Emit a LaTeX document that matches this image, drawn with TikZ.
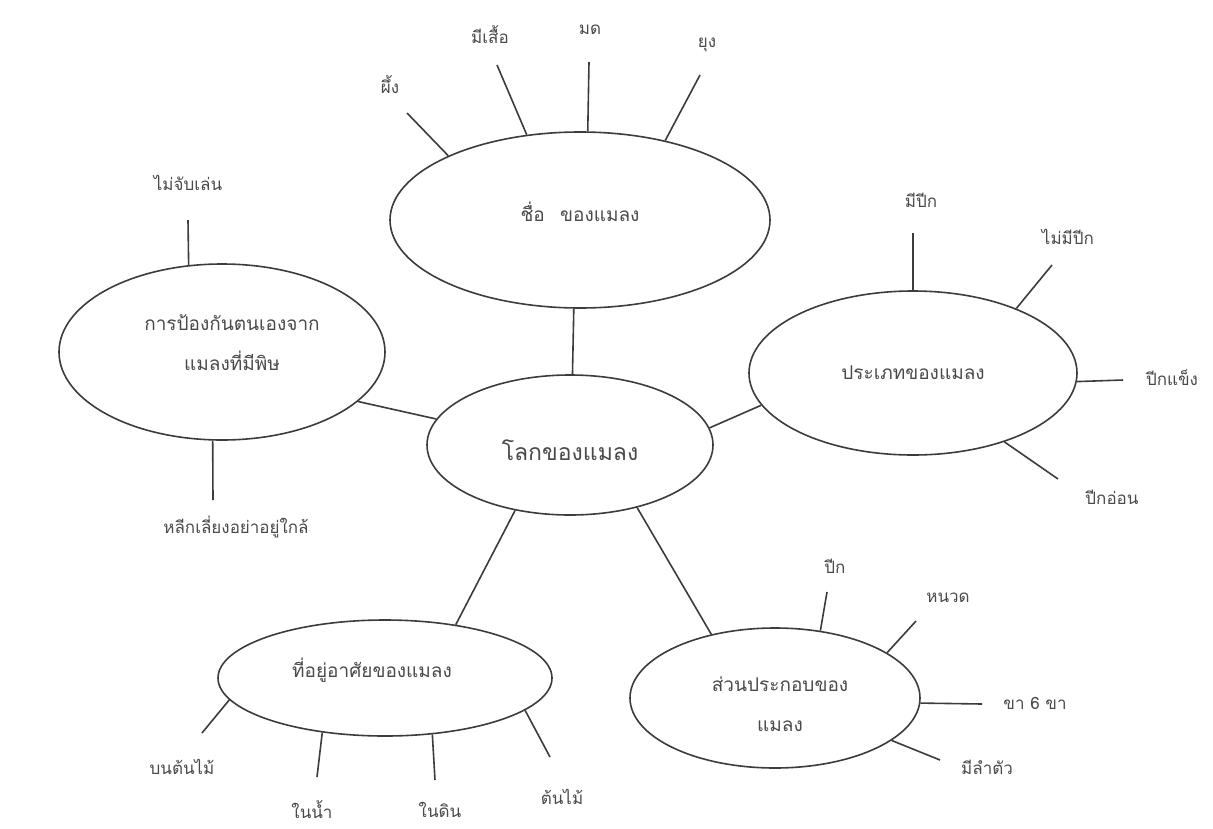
\documentclass[tikz,border=0pt]{standalone}
\usepackage{fontspec}
\newfontfamily\thai[Script=Thai]{Loma}
\usetikzlibrary{shapes.geometric}
\definecolor{ink}{HTML}{3C3C3C}
\definecolor{txt}{HTML}{4A4A4A}
\tikzset{
  ell/.style={ellipse, draw=ink, line width=1.6pt, inner sep=0pt, align=center},
  lbl/.style={font=\thai\fontsize{17}{20}\selectfont, text=txt, inner sep=0pt},
  big/.style={font=\thai\fontsize{19}{40}\selectfont, text=txt},
  link/.style={draw=ink, line width=1.6pt}
}
\begin{document}
\begin{tikzpicture}[x=1pt,y=-1pt]
\fill[white] (0,0) rectangle (1213,828);
\useasboundingbox (0,0) rectangle (1213,828);

% ellipses
\node[ell, minimum width=380pt, minimum height=176pt] (T) at (580,220) {};
\node[big] (Tt) at (580,212) {ชื่อ\hspace{0.8em}ของแมลง};
\node[ell, minimum width=326pt, minimum height=176pt] (L) at (222,352) {};
\node[big, align=center] (Lt) at (232,343) {การป้องกันตนเองจาก\\แมลงที่มีพิษ};
\node[ell, minimum width=286pt, minimum height=140pt] (C) at (570,445) {};
\node[big, font=\thai\fontsize{23}{28}\selectfont] (Ct) at (570,450) {โลกของแมลง};
\node[ell, minimum width=328pt, minimum height=164pt] (R) at (913,373) {};
\node[big] (Rt) at (913,373) {ประเภทของแมลง};
\node[ell, minimum width=334pt, minimum height=116pt] (B) at (385,678) {};
\node[big] (Bt) at (372,670) {ที่อยู่อาศัยของแมลง};
\node[ell, minimum width=290pt, minimum height=140pt] (D) at (775,698) {};
\node[big, align=center] (Dt) at (780,704) {ส่วนประกอบของ\\แมลง};

% main links
\draw[link] (T.266) -- (C.88);
\draw[link] (L.340) -- (C.169);
\draw[link] (R.192) -- (C.7);
\draw[link] (C.230) -- (B.37);
\draw[link] (C.317) -- (D.135);

% top spokes
\coordinate (t1) at (407,113);
\coordinate (t2) at (497,65);
\coordinate (t3) at (589,62);
\coordinate (t4) at (700,75);
\draw[link] (T.154) -- (t1);
\draw[link] (T.122) -- (t2);
\draw[link] (T.85) -- (t3);
\draw[link] (T.43) -- (t4);
\node[lbl] (lt1) at (390,85) {ผึ้ง};
\node[lbl] (lt2) at (490,35) {มีเสื้อ};
\node[lbl] (lt3) at (590,30) {มด};
\node[lbl] (lt4) at (707,45) {ยุง};

% left spokes
\coordinate (l1) at (188,220);
\coordinate (l2) at (213,500);
\draw[link] (L.111) -- (l1);
\draw[link] (L.264) -- (l2);
\node[lbl] (ll1) at (188,183) {ไม่จับเล่น};
\node[lbl] (ll2) at (236,527) {หลีกเลี่ยงอย่าอยู่ใกล้};

% right spokes
\coordinate (r1) at (913,233);
\coordinate (r2) at (1052,265);
\coordinate (r3) at (1123,380);
\coordinate (r4) at (1058,479);
\draw[link] (R.90) -- (r1);
\draw[link] (R.32) -- (r2);
\draw[link] (R.357) -- (r3);
\draw[link] (R.323) -- (r4);
\node[lbl] (lr1) at (921,200) {มีปีก};
\node[lbl] (lr2) at (1068,237) {ไม่มีปีก};
\node[lbl] (lr3) at (1172,378) {ปีกแข็ง};
\node[lbl] (lr4) at (1112,497) {ปีกอ่อน};

% bottom-left spokes
\coordinate (b1) at (202,733);
\coordinate (b2) at (317,777);
\coordinate (b3) at (435,780);
\coordinate (b4) at (550,757);
\draw[link] (B.188) -- (b1);
\draw[link] (B.221) -- (b2);
\draw[link] (B.310) -- (b3);
\draw[link] (B.347) -- (b4);
\node[lbl] (lb1) at (182,767) {บนต้นไม้};
\node[lbl] (lb2) at (312,810) {ในน้ำ};
\node[lbl] (lb3) at (440,810) {ในดิน};
\node[lbl] (lb4) at (562,797) {ต้นไม้};

% bottom-right spokes
\coordinate (d1) at (827,592);
\coordinate (d2) at (916,621);
\coordinate (d3) at (982,704);
\coordinate (d4) at (940,760);
\draw[link] (D.56) -- (d1);
\draw[link] (D.22) -- (d2);
\draw[link] (D.358) -- (d3);
\draw[link] (D.340) -- (d4);
\node[lbl] (ld1) at (835,566) {ปีก};
\node[lbl] (ld2) at (948,598) {หนวด};
\node[lbl] (ld3) at (1035,703) {ขา 6 ขา};
\node[lbl] (ld4) at (987,767) {มีลำตัว};
\end{tikzpicture}
\end{document}
